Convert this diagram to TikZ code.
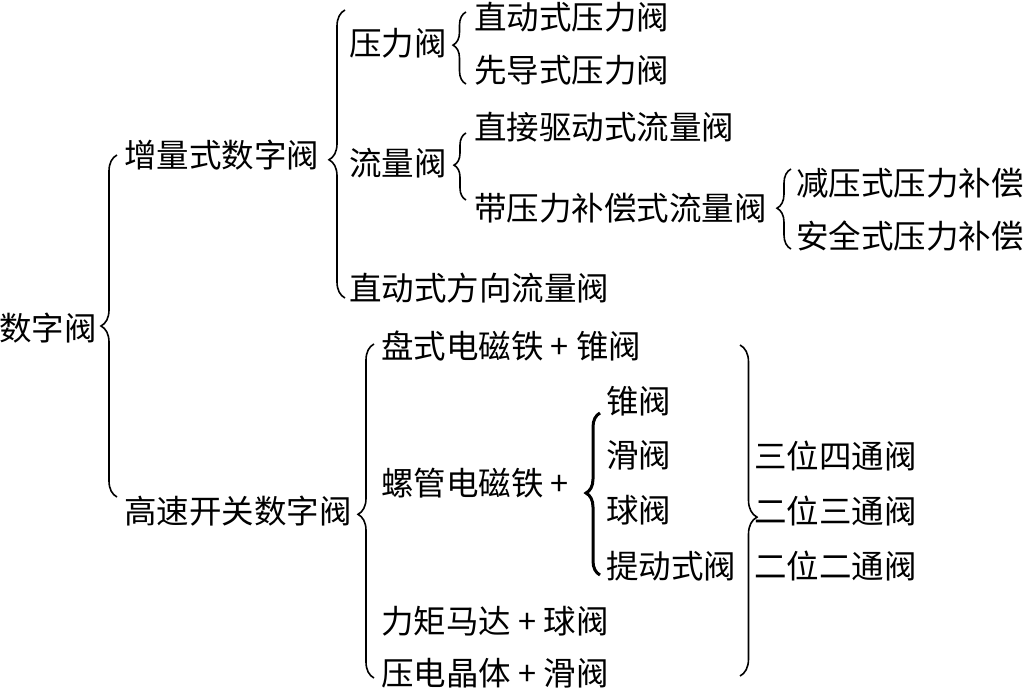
\documentclass[tikz,border=0pt]{standalone}
\usepackage{fontspec}
\setmainfont{Noto Sans CJK SC}
\usetikzlibrary{decorations.pathreplacing}
\begin{document}
\begin{tikzpicture}[x=1pt,y=-1pt,
  lbl/.style={anchor=west, inner sep=0pt, font=\fontsize{32.5}{32.5}\selectfont},
  brc/.style={decorate, decoration={brace, amplitude=#1}, line width=1.6pt},
  brcthick/.style={decorate, decoration={brace, amplitude=#1}, line width=3pt}]
\useasboundingbox (0,0) rectangle (1028,691);
% labels
\node[lbl] (root) at (-1,328) {数字阀};
\node[lbl] (n1) at (124,155) {增量式数字阀};
\node[lbl] (n2) at (124,511) {高速开关数字阀};
\node[lbl] (a1) at (349,43) {压力阀};
\node[lbl] (a2) at (349,163) {流量阀};
\node[lbl] (a3) at (349,288) {直动式方向流量阀};
\node[lbl] (b1) at (474,17) {直动式压力阀};
\node[lbl] (b2) at (474,70) {先导式压力阀};
\node[lbl] (c1) at (474,127) {直接驱动式流量阀};
\node[lbl] (c2) at (474,208) {带压力补偿式流量阀};
\node[lbl] (d1) at (796,183) {减压式压力补偿};
\node[lbl] (d2) at (796,236) {安全式压力补偿};
\node[lbl] (e1) at (381,346) {盘式电磁铁 + 锥阀};
\node[lbl] (e2) at (381,483) {螺管电磁铁 +};
\node[lbl] (e3) at (381,621) {力矩马达 + 球阀};
\node[lbl] (e4) at (381,673) {压电晶体 + 滑阀};
\node[lbl] (f1) at (606,401) {锥阀};
\node[lbl] (f2) at (606,455) {滑阀};
\node[lbl] (f3) at (606,510) {球阀};
\node[lbl] (f4) at (606,566) {提动式阀};
\node[lbl] (g1) at (754,456) {三位四通阀};
\node[lbl] (g2) at (754,511) {二位三通阀};
\node[lbl] (g3) at (754,566) {二位二通阀};
% brace end points
\coordinate (B1b) at (117,497); \coordinate (B1t) at (117,155);
\coordinate (B2b) at (345,298); \coordinate (B2t) at (345,10);
\coordinate (B3b) at (466,84);  \coordinate (B3t) at (466,12);
\coordinate (B4b) at (466,200); \coordinate (B4t) at (466,133);
\coordinate (B5b) at (791,249); \coordinate (B5t) at (791,169);
\coordinate (B6b) at (374,678); \coordinate (B6t) at (374,344);
\coordinate (B7b) at (600,575); \coordinate (B7t) at (600,413);
\coordinate (B8t) at (740,345); \coordinate (B8b) at (740,676);
% braces
\draw[brc=16pt, decoration={aspect=0.5}] (B1b) -- (B1t);
\draw[brc=16pt, decoration={aspect=0.48}] (B2b) -- (B2t);
\draw[brc=13pt, decoration={aspect=0.54}] (B3b) -- (B3t);
\draw[brc=12pt, decoration={aspect=0.52}] (B4b) -- (B4t);
\draw[brc=14pt, decoration={aspect=0.51}] (B5b) -- (B5t);
\draw[brc=16pt, decoration={aspect=0.49}] (B6b) -- (B6t);
\draw[brcthick=14pt, decoration={aspect=0.506}] (B7b) -- (B7t);
\draw[brc=17pt, decoration={aspect=0.52}] (B8t) -- (B8b);
\end{tikzpicture}
\end{document}
